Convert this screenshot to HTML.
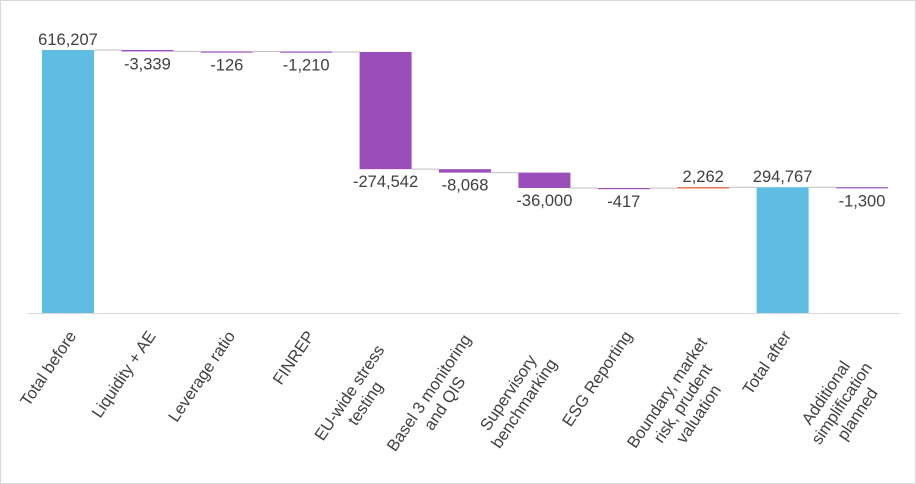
<!DOCTYPE html>
<html><head><meta charset="utf-8"><style>
body{margin:0;background:#fff;}
svg{display:block;font-family:"Liberation Sans",sans-serif;}
</style></head><body>
<svg id="chart" width="916" height="484">
<rect x="0.5" y="0.5" width="915" height="483" fill="#fff" stroke="#d9d9d9"/>
<g id="marks"></g>
<line x1="28" y1="313.5" x2="900" y2="313.5" stroke="#d9d9d9" stroke-width="1"/>
<g id="labels"></g>
</svg>
<script>
const categories=[["Total before"],["Liquidity + AE"],["Leverage ratio"],["FINREP"],["EU-wide stress","testing"],["Basel 3 monitoring","and QIS"],["Supervisory","benchmarking"],["ESG Reporting"],["Boundary, market","risk, prudent","valuation"],["Total after"],["Additional","simplification","planned"]];
const values=[616207,-3339,-126,-1210,-274542,-8068,-36000,-417,2262,294767,-1300];
const isTotal=[true,false,false,false,false,false,false,false,false,true,false];
const valueLabels=["616,207","-3,339","-126","-1,210","-274,542","-8,068","-36,000","-417","2,262","294,767","-1,300"];

const NS="http://www.w3.org/2000/svg";
const y0=313, scale=263/616207;
function y(v){return y0-v*scale;}
function cx(i){return 68+i*79.4;}
const bw=52;
const marks=document.getElementById('marks');
const labels=document.getElementById('labels');
function mk(tag,attrs,parent){const e=document.createElementNS(NS,tag);for(const k in attrs)e.setAttribute(k,attrs[k]);parent.appendChild(e);return e;}
let run=0;
values.forEach((v,i)=>{
  let a,b,color;
  if(isTotal[i]){a=0;b=v;run=v;color="#5fbde2";}
  else{a=run;b=run+v;run=b;color=v<0?"#9b4dba":"#e2532c";}
  const top=Math.min(y(a),y(b)),h=Math.max(1.2,Math.abs(y(a)-y(b)));
  const r=mk('rect',{x:cx(i)-bw/2,y:top,width:bw,height:h,fill:color},marks);
  
  
  if(i<values.length-1){
    const ln=mk('line',{x1:cx(i)+bw/2,x2:cx(i+1)-bw/2,y1:y(run),y2:y(run),stroke:"#bfbfbf","stroke-width":1},marks);
    
    
  }
  const up=isTotal[i]||v>0;
  const ly=up?top-5:top+h+18;
  const t=mk('text',{x:cx(i),y:ly,"text-anchor":"middle","font-size":"16.5",fill:"#404040"},labels);
  t.textContent=valueLabels[i];
  
  
  const g=mk('g',{},labels);
  
  
  const lines=categories[i];
  const multi=lines.length>1;
  const tx=mk('text',{"text-anchor":multi?"middle":"end","font-size":"16.5",fill:"#404040"},g);
  lines.forEach((s,j)=>{const ts=mk('tspan',{x:0,y:j*19},tx);ts.textContent=s;});
  const W=145;
  const shift=multi?-W/2:0;
  g.setAttribute('transform',`translate(${cx(i)-1},${329}) rotate(-56) translate(${shift},12)`);
});
</script>
</body></html>
